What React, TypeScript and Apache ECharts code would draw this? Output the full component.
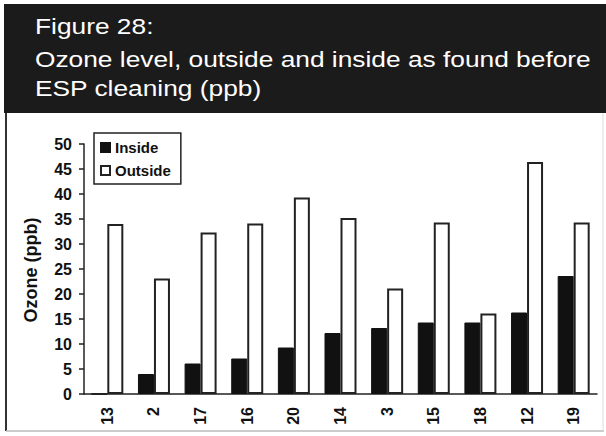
import React, { useEffect, useRef } from "react";
import * as echarts from "echarts";

const categories = ["13", "2", "17", "16", "20", "14", "3", "15", "18", "12", "19"];
const insideValues = [0, 4, 6.1, 7.1, 9.3, 12.2, 13.2, 14.3, 14.3, 16.3, 23.6];
const outsideValues = [34, 23.1, 32.3, 34.1, 39.3, 35.2, 21.1, 34.3, 16.1, 46.4, 34.3];
const titleLines = [
  "Figure 28:",
  "Ozone level, outside and inside as found before",
  "ESP cleaning (ppb)",
];
const yAxisTitle = "Ozone (ppb)";

const NARROW = "'Liberation Sans Narrow', 'Liberation Sans', Arial, sans-serif";
const SANS = "'Liberation Sans', Arial, sans-serif";

export default function App() {
  const ref = useRef<HTMLDivElement>(null);
  useEffect(() => {
    document.body.style.margin = "0";
    if (!ref.current) return;
    const chart = echarts.init(ref.current, undefined, { renderer: "svg" });
    const titleY = [26, 59, 88];
    chart.setOption({
      animation: false,
      backgroundColor: "#ffffff",
      grid: { left: 84, right: 9, top: 144, bottom: 42, containLabel: false },
      legend: {
        orient: "vertical",
        left: 94,
        top: 133,
        padding: [7, 10, 6, 6],
        itemGap: 8,
        itemWidth: 9,
        itemHeight: 9,
        icon: "rect",
        borderColor: "#222",
        borderWidth: 1.5,
        backgroundColor: "#fff",
        textStyle: { fontFamily: NARROW, fontWeight: "bold", fontSize: 15, color: "#111", padding: [0, 0, 0, 0] },
        data: ["Inside", "Outside"],
      },
      xAxis: {
        type: "category",
        data: categories,
        axisLine: { lineStyle: { color: "#222", width: 1.5 } },
        axisTick: { length: 6, lineStyle: { color: "#222", width: 1.5 } },
        axisLabel: {
          rotate: 90,
          margin: 13,
          fontFamily: NARROW,
          fontWeight: "bold",
          fontSize: 16,
          color: "#111",
        },
      },
      yAxis: {
        type: "value",
        min: 0,
        max: 50,
        interval: 5,
        splitLine: { show: false },
        axisLine: { show: true, lineStyle: { color: "#222", width: 1.5 } },
        axisTick: { show: true, length: 5, lineStyle: { color: "#222", width: 1.5 } },
        axisLabel: {
          margin: 12,
          fontFamily: NARROW,
          fontWeight: "bold",
          fontSize: 16,
          color: "#111",
        },
      },
      series: [
        {
          name: "Inside",
          type: "bar",
          data: insideValues,
          barWidth: 16,
          barGap: "0%",
          itemStyle: { color: "#111", borderColor: "#111", borderWidth: 1 },
        },
        {
          name: "Outside",
          type: "bar",
          data: outsideValues,
          barWidth: 16,
          barGap: "0%",
          itemStyle: { color: "#ffffff", borderColor: "#222", borderWidth: 2 },
        },
      ],
      graphic: [
        {
          type: "rect",
          shape: { x: 4, y: 4, width: 602, height: 109 },
          style: { fill: "#1b1b1b" },
          silent: true,
        },
        ...titleLines.map((t, i) => ({
          type: "text",
          x: 35,
          y: titleY[i],
          scaleX: 1.17,
          style: {
            text: t,
            fill: "#ffffff",
            font: `22.5px ${SANS}`,
            textAlign: "left",
            textVerticalAlign: "middle",
          },
          silent: true,
        })),
        {
          type: "line",
          shape: { x1: 6, y1: 113, x2: 6, y2: 431 },
          style: { stroke: "#333", lineWidth: 2 },
          silent: true,
        },
        {
          type: "line",
          shape: { x1: 6, y1: 431, x2: 604, y2: 431 },
          style: { stroke: "#bbb", lineWidth: 1.5 },
          silent: true,
        },
        {
          type: "line",
          shape: { x1: 603, y1: 113, x2: 603, y2: 431 },
          style: { stroke: "#ddd", lineWidth: 1 },
          silent: true,
        },
        {
          type: "text",
          x: 31,
          y: 270,
          rotation: Math.PI / 2,
          style: {
            text: yAxisTitle,
            fill: "#111",
            font: `bold 18px ${NARROW}`,
            textAlign: "center",
            textVerticalAlign: "middle",
          },
          silent: true,
        },
      ],
    });
    return () => chart.dispose();
  }, []);
  return (
    <div
      ref={ref}
      style={{ position: "fixed", left: 0, top: 0, width: 606, height: 436 }}
    />
  );
}
